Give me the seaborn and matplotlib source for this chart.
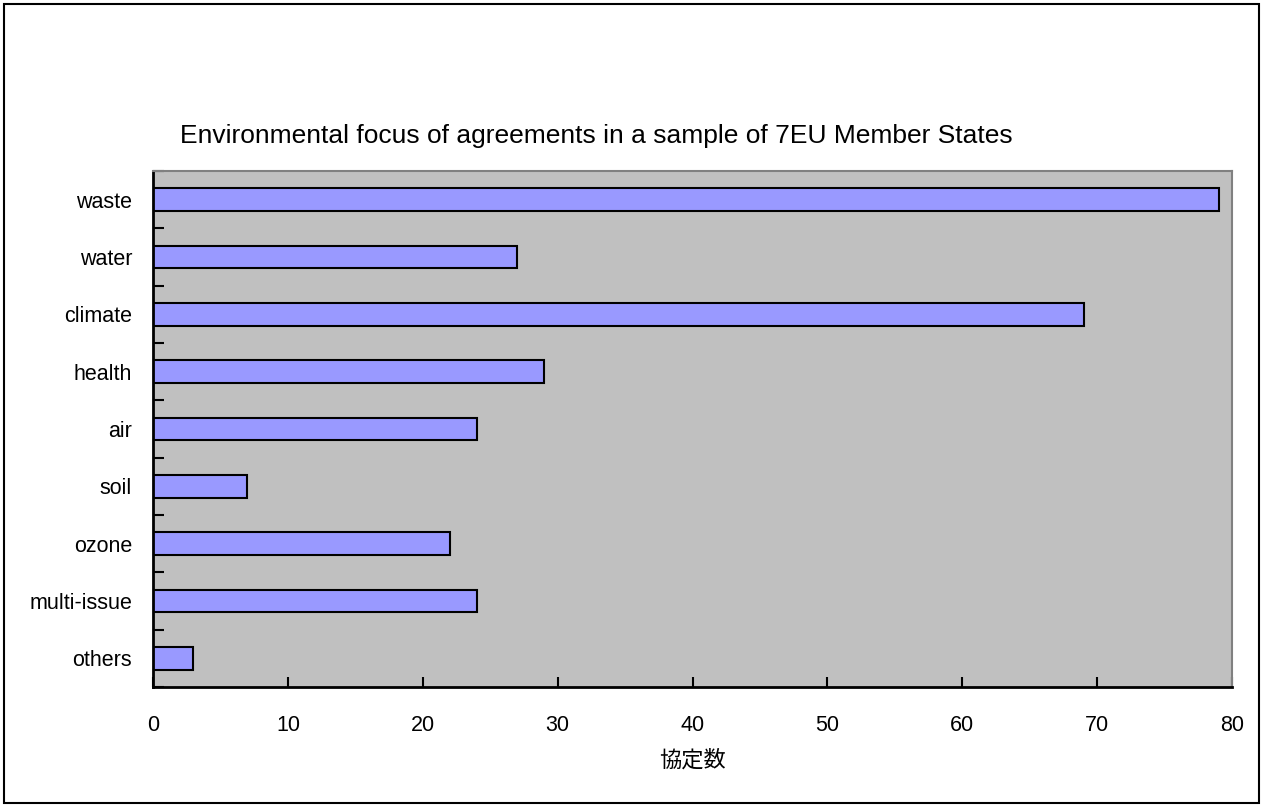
import matplotlib
matplotlib.use("Agg")
import matplotlib.pyplot as plt
import seaborn as sns
import pandas as pd
from matplotlib.patches import Rectangle

# data
topics = ['waste', 'water', 'climate', 'health', 'air', 'soil', 'ozone', 'multi-issue', 'others']
counts = [79, 27, 69, 29, 24, 7, 22, 24, 3]
xticks = [0, 10, 20, 30, 40, 50, 60, 70, 80]

title = 'Environmental focus of agreements in a sample of 7EU Member States'
xlabel = '協定数'

sns.set_style('white')
plt.rcParams['font.family'] = ['Liberation Sans', 'Noto Sans CJK JP', 'DejaVu Sans']
plt.rcParams['text.color'] = 'black'
plt.rcParams['xtick.color'] = 'black'
plt.rcParams['ytick.color'] = 'black'
plt.rcParams['xtick.bottom'] = True
plt.rcParams['ytick.left'] = True

df = pd.DataFrame({'topic': topics, 'count': counts})

fig = plt.figure(figsize=(12.63, 8.07), dpi=100)
ax = fig.add_axes([153/1263, 1-687/807, (1232-153)/1263, (687-171)/807])
ax.set_facecolor('#C0C0C0')

sns.barplot(data=df, x='count', y='topic', orient='h', color='#9999FF',
            saturation=1, edgecolor='black', linewidth=1.5, width=0.4, ax=ax)

ax.set_xlim(0, 80)
ax.set_ylim(len(topics)-0.5, -0.5)
ax.set_xticks(xticks)
ax.set_xticklabels([str(t) for t in xticks], fontsize=15.5)
ax.tick_params(axis='x', bottom=True, direction='in', length=7, width=1.5, pad=20, color='black', labelcolor='black')
ax.set_yticks(range(len(topics)))
ax.set_yticklabels(topics, fontsize=15.5)
ax.tick_params(axis='y', which='major', left=True, length=0, pad=15, labelcolor='black')
ax.set_yticks([i + 0.5 for i in range(-1, len(topics))], minor=True)
ax.tick_params(axis='y', which='minor', left=True, direction='in', length=8, width=1.5, color='black')

ax.set_xlabel(xlabel, fontsize=16, labelpad=10, color='black')
ax.set_ylabel('')

for side in ['left', 'bottom']:
    ax.spines[side].set_color('black')
    ax.spines[side].set_linewidth(2)
for side in ['top', 'right']:
    ax.spines[side].set_color('#808080')
    ax.spines[side].set_linewidth(1.5)
    ax.spines[side].set_visible(True)

fig.text(596/1263, 1-136/807, title, fontsize=19, ha='center', va='center', color='black')

fig.patches.append(Rectangle((4/1263, 4/807), 1-8/1263, 1-8/807, transform=fig.transFigure,
                             fill=False, edgecolor='black', linewidth=1.5))

fig.savefig('out.png', dpi=100)
plt.close()
